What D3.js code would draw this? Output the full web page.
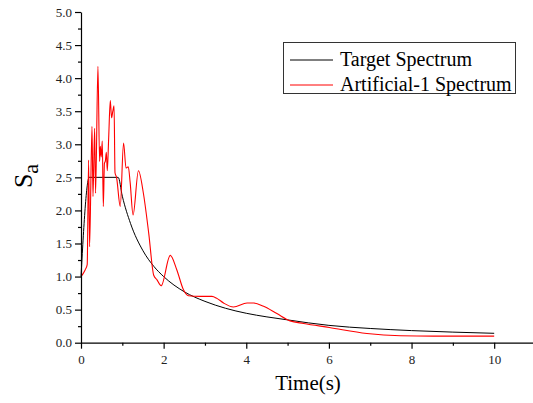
<!DOCTYPE html>
<html><head><meta charset="utf-8">
<script src="https://cdn.jsdelivr.net/npm/d3@7"></script>
<style>body{margin:0;background:#fff;} svg{display:block;} text{font-family:"Liberation Serif","Times New Roman",serif;}</style>
</head><body>
<svg id="c" width="533" height="403"></svg>
<script>
// Target spectrum (period T in s, Sa)
const targetT  = [0, 0.2, 0.9, 1.0, 1.2, 1.5, 1.76, 2.0, 2.5, 3.0, 3.5, 4.0, 4.5, 5.0, 5.5, 6.0, 7.0, 8.0, 9.0, 10.0];
const targetSa = [1.0, 2.5, 2.5, 2.215, 1.80, 1.39, 1.156, 1.0, 0.77, 0.625, 0.52, 0.445, 0.39, 0.345, 0.30, 0.262, 0.215, 0.183, 0.16, 0.142];
// Artificial-1 spectrum
const artT  = [0, 0.1, 0.15, 0.184, 0.208, 0.266, 0.29, 0.33, 0.353, 0.41, 0.45, 0.467, 0.49, 0.515, 0.54, 0.567, 0.59, 0.613, 0.637, 0.67, 0.709, 0.74, 0.77, 0.80, 0.823, 0.86, 0.95, 1.03, 1.09, 1.144, 1.19, 1.26, 1.39, 1.51, 1.64, 1.76, 1.84, 1.94, 2.16, 2.32, 2.48, 2.60, 2.89, 3.17, 3.29, 3.45, 3.69, 4.02, 4.18, 4.42, 4.74, 5.06, 5.39, 6.01, 6.92, 7.73, 8.53, 10.0];
const artSa = [1.0, 1.10, 1.18, 2.76, 1.45, 3.27, 2.21, 3.24, 2.26, 4.18, 2.74, 2.97, 2.81, 3.05, 2.06, 2.71, 2.75, 2.88, 2.60, 3.10, 3.66, 3.40, 3.50, 3.58, 2.57, 2.50, 2.06, 3.02, 2.64, 2.66, 2.42, 1.93, 2.60, 2.26, 1.65, 1.02, 0.95, 0.86, 1.32, 1.10, 0.80, 0.71, 0.70, 0.70, 0.67, 0.60, 0.54, 0.60, 0.60, 0.55, 0.44, 0.33, 0.29, 0.23, 0.14, 0.106, 0.10, 0.10];
const xMajor = [0, 2, 4, 6, 8, 10];
const xMinor = [1, 3, 5, 7, 9];
const yMajor = [0, 0.5, 1, 1.5, 2, 2.5, 3, 3.5, 4, 4.5, 5];
const yMinor = [0.25, 0.75, 1.25, 1.75, 2.25, 2.75, 3.25, 3.75, 4.25, 4.75];
const seriesNames = ["Target Spectrum", "Artificial-1 Spectrum"];
const seriesColors = ["#000000", "#ff0000"];

const FONT = "Liberation Serif, Times New Roman, serif";
const svg = d3.select("#c");
const x = d3.scaleLinear().domain([0, 11]).range([81, 535.5]);
const y = d3.scaleLinear().domain([0, 5]).range([342.7, 12]);

const line = d3.line().x(d => x(d[0])).y(d => y(d[1])).curve(d3.curveMonotoneX);

// lines
svg.append("path").datum(targetT.map((t, i) => [t, targetSa[i]]))
  .attr("fill", "none").attr("stroke", seriesColors[0]).attr("stroke-width", 1)
  .attr("d", line);
svg.append("path").datum(artT.map((t, i) => [t, artSa[i]]))
  .attr("fill", "none").attr("stroke", seriesColors[1]).attr("stroke-width", 1.1)
  .attr("d", line);

// axes
function styleAxis(g) {
  g.attr("font-family", FONT);
  g.select(".domain").attr("stroke", "#000").attr("stroke-width", 1.2);
  g.selectAll(".tick line").attr("stroke", "#000").attr("stroke-width", 1.2);
  g.selectAll("text").attr("fill", "#222").attr("font-family", FONT).attr("font-size", 13);
}
const gx = svg.append("g").attr("transform", `translate(0,${y(0)})`)
  .call(d3.axisBottom(x).tickValues(xMajor).tickSize(6).tickPadding(6).tickSizeOuter(0).tickFormat(d3.format("d")));
styleAxis(gx);
const gx2 = svg.append("g").attr("transform", `translate(0,${y(0)})`)
  .call(d3.axisBottom(x).tickValues(xMinor).tickSize(3).tickFormat(""));
styleAxis(gx2); gx2.select(".domain").remove();

const gy = svg.append("g").attr("transform", `translate(${x(0)},0)`)
  .call(d3.axisLeft(y).tickValues(yMajor).tickSize(6).tickPadding(3).tickSizeOuter(0).tickFormat(d3.format(".1f")));
styleAxis(gy);
const gy2 = svg.append("g").attr("transform", `translate(${x(0)},0)`)
  .call(d3.axisLeft(y).tickValues(yMinor).tickSize(3).tickFormat(""));
styleAxis(gy2); gy2.select(".domain").remove();

// axis titles
svg.append("text").attr("x", 308).attr("y", 390).attr("text-anchor", "middle")
  .attr("font-family", FONT).attr("font-size", 21).text("Time(s)");
const yl = svg.append("text").attr("transform", "translate(32,176) rotate(-90)").attr("text-anchor", "middle")
  .attr("font-family", FONT).attr("font-size", 26);
yl.append("tspan").text("S");
yl.append("tspan").attr("dy", 6).attr("font-size", 22).text("a");

// legend
const lg = svg.append("g");
lg.append("rect").attr("x", 283.5).attr("y", 42.5).attr("width", 232).attr("height", 51)
  .attr("fill", "#fff").attr("stroke", "#333").attr("stroke-width", 1);
seriesNames.forEach((n, i) => {
  const cy = 60 + i * 25;
  lg.append("line").attr("x1", 290).attr("x2", 333).attr("y1", cy).attr("y2", cy)
    .attr("stroke", seriesColors[i]).attr("stroke-width", 1);
  lg.append("text").attr("x", 340).attr("y", cy + 6).attr("font-family", FONT).attr("font-size", 20).text(n);
});
</script>
</body></html>
